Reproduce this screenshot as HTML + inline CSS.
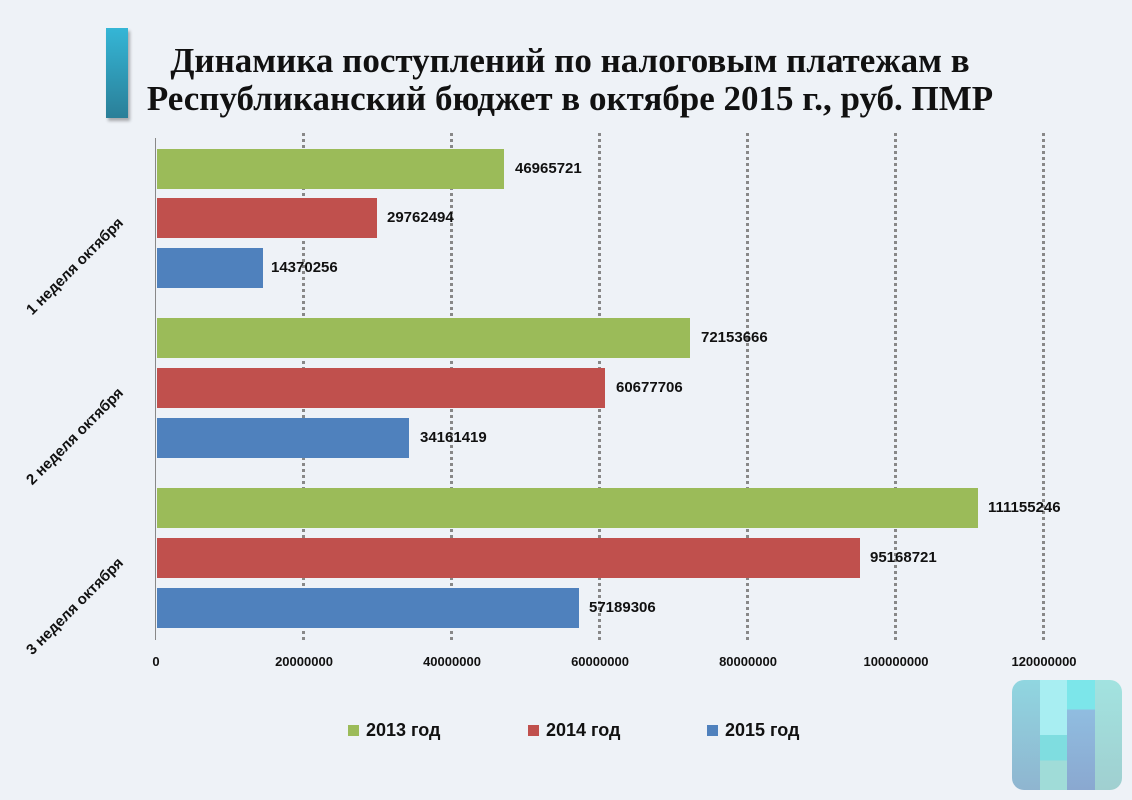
<!DOCTYPE html>
<html><head><meta charset="utf-8"><style>
body{margin:0;width:1132px;height:800px;background:#eef2f7;position:relative;overflow:hidden;font-family:"Liberation Sans","DejaVu Sans",sans-serif}
.t{position:absolute;left:110px;width:920px;text-align:center;font-family:"Liberation Serif","DejaVu Serif",serif;font-weight:bold;font-size:35px;color:#111;line-height:38px;top:42px;white-space:nowrap}
.deco{position:absolute;left:106px;top:28px;width:22px;height:90px;background:linear-gradient(#35b6d6,#2a7f98);box-shadow:2px 3px 3px rgba(0,0,0,.3)}
.bar{position:absolute;left:157px;height:40px}
.g{background:#9bbb59}.r{background:#c0504d}.b{background:#4f81bd}
.v{position:absolute;font-weight:bold;font-size:15px;color:#111;line-height:40px}
.grid{position:absolute;top:133px;height:507px;border-left:3px dotted #888}
.tk{position:absolute;top:654px;font-size:13px;font-weight:bold;color:#111;transform:translateX(-50%)}
.cat{position:absolute;font-weight:bold;font-size:15px;color:#111;transform:rotate(-45deg);transform-origin:center;white-space:nowrap}
.lg{position:absolute;top:720px;font-weight:bold;font-size:18px;color:#111}
.lg i{display:inline-block;width:11px;height:11px;margin-right:7px}
</style></head><body>
<div class="deco"></div>
<div class="t">Динамика поступлений по налоговым платежам в<br>Республиканский бюджет в октябре 2015 г., руб. ПМР</div>
<div class="grid" style="left:302px"></div><div class="grid" style="left:450px"></div><div class="grid" style="left:598px"></div><div class="grid" style="left:746px"></div><div class="grid" style="left:894px"></div><div class="grid" style="left:1042px"></div>
<div style="position:absolute;left:155px;top:138px;width:1px;height:502px;background:#888"></div>
<div class="bar g" style="top:149px;width:347px"></div><div class="v" style="left:515px;top:149px">46965721</div>
<div class="bar r" style="top:198px;width:220px"></div><div class="v" style="left:387px;top:198px">29762494</div>
<div class="bar b" style="top:248px;width:106px"></div><div class="v" style="left:271px;top:248px">14370256</div>
<div class="bar g" style="top:318px;width:533px"></div><div class="v" style="left:701px;top:318px">72153666</div>
<div class="bar r" style="top:368px;width:448px"></div><div class="v" style="left:616px;top:368px">60677706</div>
<div class="bar b" style="top:418px;width:252px"></div><div class="v" style="left:420px;top:418px">34161419</div>
<div class="bar g" style="top:488px;width:821px"></div><div class="v" style="left:988px;top:488px">111155246</div>
<div class="bar r" style="top:538px;width:703px"></div><div class="v" style="left:870px;top:538px">95168721</div>
<div class="bar b" style="top:588px;width:422px"></div><div class="v" style="left:589px;top:588px">57189306</div>
<div class="tk" style="left:156px">0</div><div class="tk" style="left:304px">20000000</div><div class="tk" style="left:452px">40000000</div><div class="tk" style="left:600px">60000000</div><div class="tk" style="left:748px">80000000</div><div class="tk" style="left:896px">100000000</div><div class="tk" style="left:1044px">120000000</div>
<div class="cat" style="left:10px;top:258px">1 неделя октября</div>
<div class="cat" style="left:10px;top:428px">2 неделя октября</div>
<div class="cat" style="left:10px;top:598px">3 неделя октября</div>
<div class="lg" style="left:348px"><i style="background:#9bbb59"></i>2013 год</div>
<div class="lg" style="left:528px"><i style="background:#c0504d"></i>2014 год</div>
<div class="lg" style="left:707px"><i style="background:#4f81bd"></i>2015 год</div>
<div style="position:absolute;left:1012px;top:680px;width:110px;height:110px;border-radius:12px;overflow:hidden;display:flex">
<div style="flex:1;background:linear-gradient(#90d6e0,#8fb5d0)"></div>
<div style="flex:1;background:linear-gradient(#a8eef2 0,#a8eef2 50%,#7fdde0 50%,#7fdde0 73%,#a0dcd8 73%)"></div>
<div style="flex:1;background:linear-gradient(#7ce6ea 0,#7ce6ea 27%,#90bde0 27%,#8aa8d0)"></div>
<div style="flex:1;background:linear-gradient(#a2e3e0,#a0cfd0)"></div>
</div>
</body></html>
